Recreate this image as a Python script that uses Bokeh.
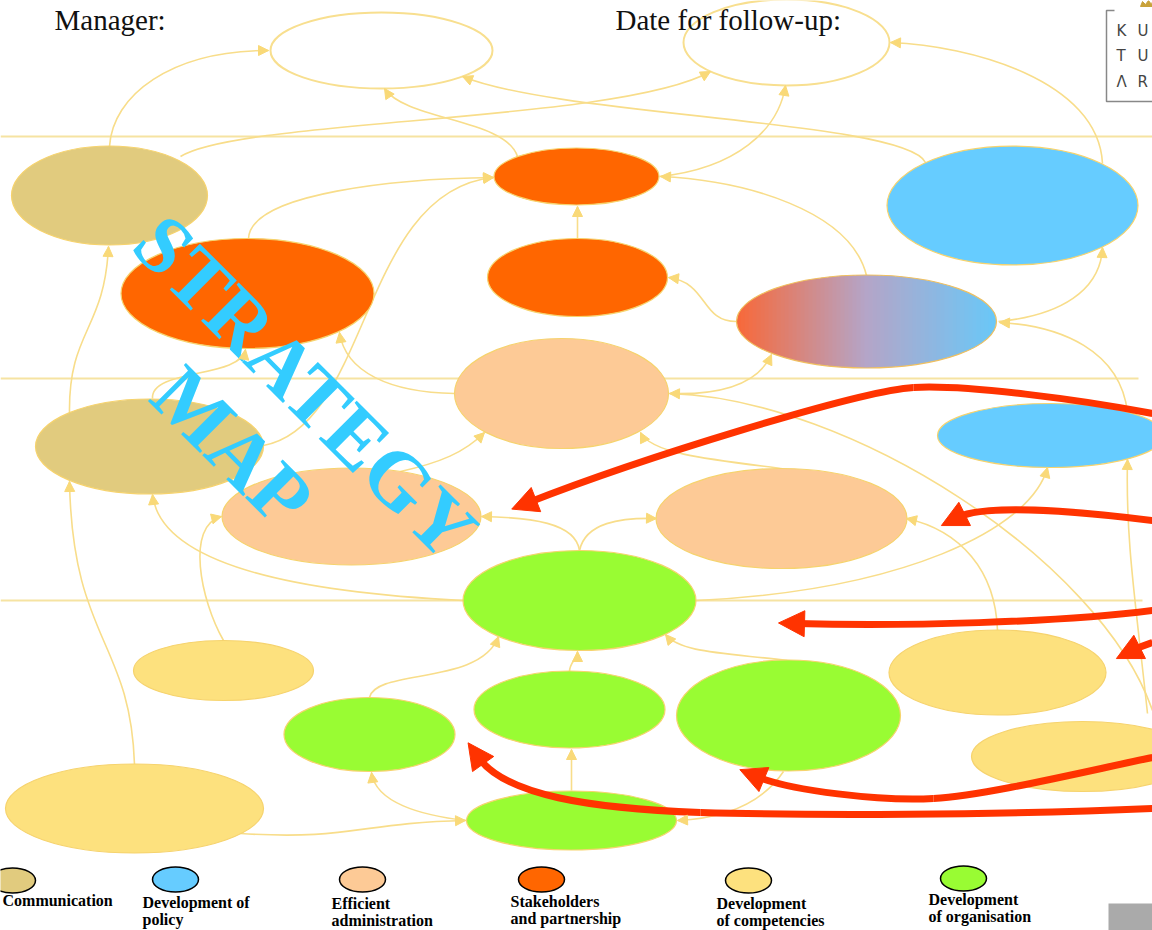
import numpy as np
from bokeh.plotting import figure
from bokeh.models import Range1d, Arrow, NormalHead, ColumnDataSource
from bokeh.core.properties import value
from bokeh.embed import file_html
from bokeh.resources import INLINE

# ---------------- data ----------------
cat_names = ["Communication", "Development of policy", "Efficient administration",
             "Stakeholders and partnership", "Development of competencies",
             "Development of organisation"]
cat_colors = ["#e1cb7e", "#66ccff", "#fdca96", "#ff6600", "#fde17e", "#99fc33"]

# objectives (nodes): centre x, centre y, width, height, category (-1 = empty, -2 = mixed)
node_x = [381, 786, 109, 576, 247, 577, 1012, 866, 561, 149, 1050, 351, 781, 579,
          223, 997, 369, 569, 788, 1082, 134, 571]
node_y = [50, 42, 195, 176, 293, 277, 205, 321, 393, 446, 435, 516, 518, 600,
          670, 672, 734, 709, 715, 756, 808, 820]
node_w = [222, 206, 196, 165, 253, 180, 251, 260, 214, 228, 226, 259, 251, 233,
          180, 217, 171, 191, 224, 222, 258, 210]
node_h = [76, 86, 99, 57, 110, 78, 119, 93, 110, 95, 64, 97, 100, 100,
          60, 85, 74, 77, 111, 70, 89, 59]
node_cat = [-1, -1, 0, 3, 3, 3, 1, -2, 2, 0, 1, 2, 2, 5, 4, 4, 5, 5, 5, 4, 4, 5]

# perspective divider lines
band_y = [136, 378, 600]
band_x_end = [1152, 1138, 1142]

# cause-effect links (cubic curves): start, control 1, control 2, end
links = [
    (109, 146, 112, 95, 170, 50, 268, 50),
    (180, 156, 240, 118, 620, 122, 710, 71),
    (925, 162, 905, 120, 560, 116, 462, 76),
    (517, 156, 505, 118, 405, 120, 384, 88),
    (1102, 163, 1098, 80, 970, 45, 890, 42),
    (659, 176, 735, 168, 778, 130, 785, 85),
    (866, 275, 850, 210, 745, 180, 660, 176),
    (577, 238, 577, 225, 577, 215, 577, 206),
    (737, 321, 700, 322, 708, 282, 668, 277),
    (998, 321, 1060, 315, 1100, 290, 1102, 247),
    (1127, 412, 1120, 350, 1060, 325, 999, 322),
    (69, 412, 68, 330, 104, 330, 108, 246),
    (248, 238, 250, 192, 400, 178, 493, 177),
    (263, 445, 370, 425, 360, 190, 493, 177),
    (454, 393, 390, 392, 345, 372, 339, 332),
    (152, 398, 150, 368, 240, 378, 245, 349),
    (1152, 710, 1100, 560, 850, 398, 669, 393),
    (669, 393, 730, 395, 760, 378, 771, 354),
    (400, 471, 440, 462, 464, 452, 484, 432),
    (781, 468, 700, 458, 650, 452, 640, 432),
    (579, 550, 575, 522, 530, 517, 481, 516),
    (579, 550, 585, 522, 620, 517, 656, 518),
    (463, 600, 300, 592, 160, 565, 152, 494),
    (134, 764, 130, 640, 72, 640, 69, 481),
    (223, 640, 200, 600, 185, 525, 221, 516),
    (369, 697, 375, 668, 480, 685, 498, 636),
    (569, 671, 569, 662, 577, 658, 577, 651),
    (787, 660, 720, 652, 680, 652, 665, 634),
    (571, 790, 571, 775, 571, 760, 571, 749),
    (466, 820, 420, 815, 375, 802, 371, 772),
    (240, 833, 350, 840, 360, 822, 465, 820),
    (783, 771, 760, 805, 720, 818, 677, 820),
    (997, 630, 995, 570, 960, 530, 906, 518),
    (696, 600, 900, 590, 1030, 530, 1047, 467),
    (1147, 713, 1135, 600, 1125, 540, 1127, 459),
]

# red highlight arrows: list of curve segments; last segment of each carries the head
red_paths = [
    [(1152, 413, 1080, 399, 965, 384, 913, 387), (913, 387, 860, 390, 640, 458, 528, 502)],
    [(1152, 520, 1070, 510, 985, 503, 957, 517)],
    [(1152, 610, 1060, 622, 900, 626, 796, 623)],
    [(1152, 642, 1146, 644, 1142, 645, 1132, 650)],
    [(1152, 757, 1080, 772, 985, 795, 933, 798), (933, 798, 880, 801, 790, 790, 756, 776)],
    [(1152, 808, 1000, 815, 800, 815, 700, 812), (700, 812, 590, 808, 505, 795, 478, 757)],
]

# legend
legend_x = [12, 175, 362, 541, 748, 963]
legend_y = [880, 879, 879, 879, 880, 878]
legend_line1 = ["Communication", "Development of", "Efficient", "Stakeholders", "Development", "Development"]
legend_line2 = ["", "policy", "administration", "and partnership", "of competencies", "of organisation"]
legend_tx = [2, 142, 331, 510, 716, 928]
legend_ty = [900, 902, 903, 901, 903, 899]

header_text = ["Manager:", "Date for follow-up:"]
header_x = [54, 615]
header_y = [19, 19]

logo_letters = ["K", "U", "T", "U", "Λ", "R"]
logo_lx = [1116, 1137, 1116, 1137, 1116, 1137]
logo_ly = [30, 30, 55, 55, 81, 81]

title_words = ["STRATEGY", "MAP"]
title_x = [305, 232]
title_y = [386, 446]

# ---------------- figure ----------------
p = figure(width=1152, height=930, x_range=Range1d(0, 1152), y_range=Range1d(930, 0),
           output_backend="svg", toolbar_location=None, x_axis_type=None, y_axis_type=None,
           min_border=0)
p.grid.visible = False
p.outline_line_color = None
p.background_fill_color = "white"

THIN = "#f8dd8a"

# divider lines
for yy, xe in zip(band_y, band_x_end):
    p.line([0, xe], [yy, yy], line_color="#f6e3a2", line_width=2)

# thin links
L = np.array(links, dtype=float)
p.bezier(x0=L[:, 0], y0=L[:, 1], cx0=L[:, 2], cy0=L[:, 3], cx1=L[:, 4], cy1=L[:, 5],
         x1=L[:, 6], y1=L[:, 7], line_color=THIN, line_width=1.6)
d = L[:, 6:8] - L[:, 4:6]
d = d / np.linalg.norm(d, axis=1)[:, None]
src_thin = ColumnDataSource(dict(xs=L[:, 6] - 3 * d[:, 0], ys=L[:, 7] - 3 * d[:, 1],
                                 xe=L[:, 6], ye=L[:, 7]))
p.add_layout(Arrow(end=NormalHead(size=10, fill_color="#f9d978", line_color="#f9d978", line_width=1),
                   x_start="xs", y_start="ys", x_end="xe", y_end="ye", source=src_thin,
                   line_alpha=0))

# nodes
for i in range(len(node_x)):
    c = node_cat[i]
    if c == -1:
        p.ellipse(x=[node_x[i]], y=[node_y[i]], width=[node_w[i]], height=[node_h[i]],
                  fill_color="white", line_color="#f8df8f", line_width=2)
    elif c == -2:
        gx, gy, gw, gh = node_x[i], node_y[i], node_w[i], node_h[i]
        n = 65
        edges = np.linspace(gx - gw / 2, gx + gw / 2, n + 1)
        stops_t = [0.0, 0.5, 1.0]
        stops_c = np.array([[248, 104, 56], [180, 165, 200], [105, 200, 248]], dtype=float)
        xs_list, ys_list, cols = [], [], []
        for k in range(n):
            xa, xb = edges[k], min(edges[k + 1] + 2.0, gx + gw / 2)
            xx = np.linspace(xa, xb, 5)
            r = np.clip(1 - ((xx - gx) / (gw / 2)) ** 2, 0, 1)
            yt = gy - gh / 2 * np.sqrt(r)
            yb = gy + gh / 2 * np.sqrt(r)
            xs_list.append(list(xx) + list(xx[::-1]))
            ys_list.append(list(yt) + list(yb[::-1]))
            t = ((edges[k] + edges[k + 1]) / 2 - (gx - gw / 2)) / gw
            col = [np.interp(t, stops_t, stops_c[:, j]) for j in range(3)]
            cols.append("#%02x%02x%02x" % tuple(int(round(v)) for v in col))
        p.patches(xs_list, ys_list, fill_color=cols, line_color=None)
        p.ellipse(x=[gx], y=[gy], width=[gw], height=[gh], fill_color=None,
                  line_color="#f0c060", line_width=1.2)
    else:
        p.ellipse(x=[node_x[i]], y=[node_y[i]], width=[node_w[i]], height=[node_h[i]],
                  fill_color=cat_colors[c], line_color="#f6d36e", line_width=1.2)

# red arrows
RED = "#ff3300"
segs = np.array([s for path in red_paths for s in path], dtype=float)
p.bezier(x0=segs[:, 0], y0=segs[:, 1], cx0=segs[:, 2], cy0=segs[:, 3], cx1=segs[:, 4],
         cy1=segs[:, 5], x1=segs[:, 6], y1=segs[:, 7], line_color=RED, line_width=7)
last = np.array([path[-1] for path in red_paths], dtype=float)
dr = last[:, 6:8] - last[:, 4:6]
dr = dr / np.linalg.norm(dr, axis=1)[:, None]
tipx = last[:, 6] + 18 * dr[:, 0]
tipy = last[:, 7] + 18 * dr[:, 1]
src_red = ColumnDataSource(dict(xs=tipx - 4 * dr[:, 0], ys=tipy - 4 * dr[:, 1], xe=tipx, ye=tipy))
p.add_layout(Arrow(end=NormalHead(size=26, fill_color=RED, line_color=RED, line_width=1),
                   x_start="xs", y_start="ys", x_end="xe", y_end="ye", source=src_red,
                   line_alpha=0))

# title
p.text(x=title_x, y=title_y, text=title_words, angle=-np.pi / 4, text_align="center",
       text_baseline="middle", text_font=value("Liberation Serif"), text_font_style="bold",
       text_font_size="82px", text_color="#33ccff")

# header
p.text(x=header_x, y=header_y, text=header_text, text_align="left", text_baseline="alphabetic",
       text_font=value("Liberation Serif"), text_font_size="29px", text_color="#111111")

# logo
p.line([1114, 1106, 1106, 1152], [10, 10, 101, 101], line_color="#888888", line_width=1.5)
p.text(x=logo_lx, y=logo_ly, text=logo_letters, text_align="left", text_baseline="middle",
       text_font=value("DejaVu Sans"), text_font_size="15px", text_color="#444444")
p.patch([1140, 1142, 1145, 1148, 1151, 1152, 1152, 1140], [6, 1, 4, 0, 4, 1, 6, 6],
        fill_color="#c9a23a", line_color="#c9a23a")

# legend
p.ellipse(x=legend_x, y=legend_y, width=[46] * 6, height=[25] * 6, fill_color=cat_colors,
          line_color="black", line_width=1.5)
FONT_L = dict(text_baseline="middle", text_font=value("Liberation Serif"), text_font_style="bold",
              text_font_size="16px", text_color="black", text_align="left")
p.text(x=legend_tx, y=legend_ty, text=legend_line1, **FONT_L)
p.text(x=legend_tx[1:], y=[v + 17 for v in legend_ty[1:]], text=legend_line2[1:], **FONT_L)

# grey corner block
p.quad(left=[1108], right=[1152], top=[903], bottom=[930], fill_color="#aaaaaa", line_color=None)

open("out.html", "w").write(file_html(p, INLINE))
